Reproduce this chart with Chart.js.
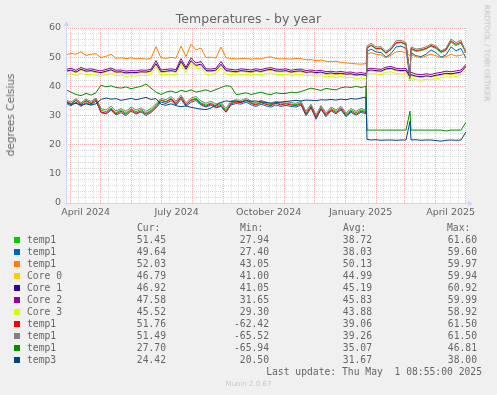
<!DOCTYPE html>
<html>
<head>
<meta charset="utf-8">
<title>Temperatures - by year</title>
<script src="https://cdn.jsdelivr.net/npm/chart.js@4.4.1/dist/chart.umd.min.js"></script>
<style>
  html, body { margin: 0; padding: 0; }
  body { width: 497px; height: 395px; background: #f0f0f0; position: relative; overflow: hidden;
         font-family: "DejaVu Sans", sans-serif; color: #666; }
  #chart { position: absolute; left: 0; top: 0; }
  .abs { position: absolute; white-space: pre; }
  #title { left: 0; width: 497px; top: 12px; text-align: center; font-size: 12.5px; line-height: 14px; }
  #ylabel { left: 10px; top: 115px; font-size: 10.5px; line-height: 12px; transform: translate(-50%, -50%) rotate(-90deg); }
  #rrd { left: 487px; top: 53px; font-size: 7.5px; line-height: 9px; color: #c0c0c0; transform: translate(-50%, -50%) rotate(90deg); }
  .mono { font-family: "DejaVu Sans Mono", monospace; font-size: 9.7px; line-height: 12px; }
  .sq { position: absolute; width: 6px; height: 6px; }
  #munin { left: 0; width: 497px; top: 378px; text-align: center; font-size: 7px; line-height: 12px; color: #c8c8c8; }
</style>
</head>
<body>
<canvas id="chart" width="497" height="225"></canvas>
<div id="title" class="abs">Temperatures - by year</div>
<div id="ylabel" class="abs">degrees Celsius</div>
<div id="rrd" class="abs">RRDTOOL / TOBI OETIKER</div>
<div id="legend"></div>
<div id="munin" class="abs">Munin 2.0.67</div>
<script>
// jours depuis le 27/03/2024 08:55 (debut du graphe annuel)
const days = [0, 5, 10, 15, 20, 25, 30, 35, 40, 45,
  50, 55, 60, 65, 70, 75, 80, 85, 90, 95,
  100, 105, 110, 115, 120, 125, 130, 135, 140, 145,
  150, 155, 160, 165, 170, 175, 180, 185, 190, 195,
  200, 205, 210, 215, 220, 225, 230, 235, 240, 245,
  250, 255, 260, 265, 270, 275, 280, 285, 290, 295,
  300, 301, 305, 310, 315, 320, 325, 330, 335, 340,
  344, 345, 350, 355, 360, 365, 370, 375, 380, 385,
  390, 395, 400];

const temp1Green = [35.0, 34.1, 35.4, 34.0, 35.2, 34.4, 35.7, 31.8, 31.3, 32.6,
  31.0, 31.9, 30.8, 32.3, 31.3, 32.1, 30.8, 31.8, 33.4, 35.4,
  34.8, 35.9, 34.4, 36.4, 33.8, 35.4, 35.9, 34.4, 33.6, 34.3,
  33.3, 33.9, 31.8, 34.3, 34.9, 34.7, 35.4, 34.5, 33.9, 34.7,
  34.1, 33.7, 34.4, 33.9, 34.3, 33.9, 33.7, 34.4, 30.8, 33.4,
  29.6, 32.9, 30.4, 32.4, 31.4, 32.7, 30.4, 31.9, 30.9, 31.9,
  31.4, 53.0, 54.0, 52.8, 52.9, 51.3, 52.6, 54.8, 55.0, 54.2,
  44.0, 52.8, 52.0, 52.3, 52.8, 53.7, 53.0, 51.6, 52.3, 55.2,
  54.0, 54.8, 51.45];

const temp1Blue = [34.2, 33.3, 34.6, 33.1, 34.4, 33.6, 34.9, 31.0, 30.5, 31.8,
  30.2, 31.0, 30.0, 31.5, 30.5, 31.2, 30.0, 31.0, 32.6, 34.6,
  34.1, 35.1, 33.6, 35.6, 33.1, 34.6, 35.1, 33.6, 32.9, 33.6,
  32.6, 33.1, 31.1, 33.6, 34.1, 33.9, 34.6, 33.7, 33.1, 33.9,
  33.3, 32.9, 33.6, 33.1, 33.5, 33.1, 32.9, 33.6, 29.9, 32.6,
  28.7, 32.1, 29.6, 31.6, 30.6, 31.9, 29.6, 31.1, 30.1, 31.1,
  30.6, 52.0, 52.8, 51.8, 51.6, 50.0, 51.2, 53.5, 53.8, 53.0,
  42.0, 51.5, 50.5, 50.2, 51.0, 52.5, 51.5, 50.0, 50.8, 53.5,
  52.2, 53.0, 49.64];

const temp1Orange = [50.8, 51.3, 51.0, 51.8, 50.6, 51.0, 51.2, 49.8, 50.3, 51.0,
  49.6, 49.8, 49.5, 49.8, 49.4, 49.6, 49.3, 49.6, 53.6, 49.8,
  49.6, 49.9, 49.7, 53.8, 50.2, 54.4, 52.5, 53.1, 49.8, 50.0,
  49.7, 53.5, 49.8, 49.6, 49.4, 49.5, 49.6, 49.3, 49.5, 49.4,
  49.9, 50.1, 49.6, 49.4, 49.5, 49.3, 49.6, 49.5, 49.1, 49.2,
  48.8, 49.0, 48.6, 48.4, 48.6, 48.2, 48.0, 47.9, 47.7, 47.6,
  47.8, 51.0, 51.5, 51.0, 50.8, 49.8, 50.6, 51.8, 52.0, 51.4,
  50.5, 50.8, 50.2, 49.8, 50.4, 51.0, 50.5, 49.8, 50.2, 51.0,
  50.4, 50.6, 52.03];

const core0 = [44.9, 45.3, 44.6, 45.6, 44.9, 45.1, 44.7, 44.4, 44.9, 45.4,
  44.6, 44.7, 44.3, 44.5, 44.4, 44.7, 44.6, 45.0, 47.6, 44.7,
  44.9, 45.1, 44.8, 48.2, 45.6, 48.4, 46.8, 47.2, 45.1, 45.0,
  45.3, 47.2, 45.1, 44.9, 44.7, 45.1, 44.9, 44.7, 45.1, 44.8,
  45.3, 45.5, 45.0, 44.9, 45.1, 44.6, 44.9, 45.0, 44.5, 44.7,
  44.4, 44.6, 44.1, 44.3, 44.0, 44.2, 43.9, 44.0, 43.6, 43.8,
  43.5, 45.1, 45.3, 45.1, 44.9, 45.7, 45.9, 45.3, 45.1, 45.2,
  42.9, 43.7, 43.2, 43.0, 43.3, 43.1, 43.5, 43.8, 44.2, 44.0,
  44.3, 44.6, 46.79];

const core1 = [45.2, 45.6, 44.9, 45.9, 45.2, 45.4, 45.0, 44.7, 45.2, 45.7,
  44.9, 45.0, 44.6, 44.8, 44.7, 45.0, 44.9, 45.3, 47.8, 45.0,
  45.2, 45.4, 45.1, 48.6, 45.9, 48.8, 47.2, 47.6, 45.4, 45.3,
  45.6, 47.6, 45.4, 45.2, 45.0, 45.4, 45.2, 45.0, 45.4, 45.1,
  45.6, 45.8, 45.3, 45.2, 45.4, 44.9, 45.2, 45.3, 44.8, 45.0,
  44.7, 44.9, 44.4, 44.6, 44.3, 44.5, 44.2, 44.3, 43.9, 44.1,
  43.8, 45.4, 45.6, 45.4, 45.2, 46.0, 46.2, 45.6, 45.4, 45.5,
  43.2, 44.0, 43.5, 43.3, 43.6, 43.4, 43.8, 44.1, 44.5, 44.3,
  44.6, 44.9, 46.92];

const core2 = [45.8, 46.2, 45.5, 46.5, 45.8, 46.0, 45.6, 45.3, 45.8, 46.3,
  45.5, 45.6, 45.2, 45.4, 45.3, 45.6, 45.5, 45.9, 48.8, 45.6,
  45.8, 46.0, 45.7, 49.5, 46.5, 49.8, 48.0, 48.5, 46.0, 45.9,
  46.2, 48.5, 46.0, 45.8, 45.6, 46.0, 45.8, 45.6, 46.0, 45.7,
  46.2, 46.4, 45.9, 45.8, 46.0, 45.5, 45.8, 45.9, 45.4, 45.6,
  45.3, 45.5, 45.0, 45.2, 44.9, 45.1, 44.8, 44.9, 44.5, 44.7,
  44.4, 46.0, 46.2, 46.0, 45.8, 46.6, 46.8, 46.2, 46.0, 46.1,
  44.0, 44.8, 44.2, 44.0, 44.3, 44.1, 44.5, 44.8, 45.2, 45.0,
  45.3, 45.6, 47.58];

const core3 = [44.0, 44.4, 43.7, 44.6, 44.0, 44.2, 43.8, 43.5, 44.0, 44.4,
  43.7, 43.8, 43.4, 43.6, 43.5, 43.8, 43.7, 44.1, 46.8, 43.8,
  44.0, 44.2, 43.9, 47.6, 44.7, 47.8, 46.0, 46.4, 44.2, 44.1,
  44.4, 46.4, 44.2, 44.0, 43.8, 44.2, 44.0, 43.8, 44.2, 43.9,
  44.4, 44.6, 44.1, 44.0, 44.2, 43.7, 44.0, 44.1, 43.6, 43.8,
  43.5, 43.7, 43.2, 43.4, 43.1, 43.3, 43.0, 43.1, 42.7, 42.9,
  42.6, 44.2, 44.4, 44.2, 44.0, 44.8, 45.0, 44.4, 44.2, 44.3,
  42.0, 42.8, 42.3, 42.1, 42.4, 42.2, 42.6, 42.9, 43.3, 43.1,
  43.4, 43.7, 45.52];

const temp1Red = [34.8, 33.8, 35.2, 33.6, 35.0, 34.0, 35.4, 31.2, 30.8, 32.2,
  30.6, 31.5, 30.4, 32.0, 30.8, 31.6, 30.5, 31.4, 33.0, 35.2,
  34.6, 35.6, 34.0, 36.2, 33.5, 35.2, 35.6, 34.0, 33.2, 34.0,
  32.8, 33.5, 31.2, 34.0, 34.6, 34.4, 35.2, 34.2, 33.6, 34.4,
  33.8, 33.4, 34.2, 33.6, 34.0, 33.6, 33.4, 34.0, 30.4, 33.0,
  29.2, 32.4, 30.0, 32.0, 31.0, 32.3, 30.0, 31.5, 30.4, 31.5,
  31.0, 53.2, 54.2, 53.0, 53.1, 51.5, 52.7, 55.0, 55.2, 54.5,
  44.0, 53.0, 52.3, 52.5, 53.0, 54.0, 53.3, 51.8, 52.6, 55.6,
  54.4, 55.2, 51.76];

const temp1Grey = [35.3, 34.6, 35.8, 34.4, 35.6, 34.9, 36.0, 32.4, 31.9, 33.2,
  31.6, 32.4, 31.4, 32.9, 31.9, 32.6, 31.4, 32.4, 34.0, 35.9,
  35.4, 36.5, 34.9, 37.0, 34.4, 36.0, 36.5, 35.0, 34.2, 34.9,
  33.9, 34.5, 32.4, 34.9, 35.4, 35.2, 35.9, 35.0, 34.4, 35.2,
  34.6, 34.2, 34.9, 34.4, 34.8, 34.4, 34.2, 34.9, 31.4, 33.9,
  30.2, 33.4, 30.9, 32.9, 31.9, 33.2, 30.9, 32.4, 31.4, 32.4,
  31.9, 53.8, 54.8, 53.5, 53.6, 52.0, 53.2, 55.6, 55.8, 55.0,
  43.0, 53.5, 52.8, 53.0, 53.5, 54.5, 53.8, 52.2, 53.0, 56.2,
  55.0, 55.8, 51.49];

const temp1DarkGreen = [38.8, 38.0, 37.2, 36.8, 37.6, 37.0, 37.8, 40.4, 39.8, 40.2,
  39.6, 39.4, 39.8, 39.2, 39.6, 40.0, 40.8, 39.4, 38.0, 37.2,
  38.0, 38.4, 37.8, 38.6, 38.2, 38.8, 38.0, 38.4, 38.8, 38.2,
  38.9, 39.6, 40.2, 40.0, 37.2, 37.4, 37.8, 37.2, 37.6, 38.0,
  37.4, 37.2, 37.8, 37.5, 37.6, 38.0, 37.8, 38.2, 38.8, 39.4,
  39.0, 38.6, 39.3, 39.0, 38.8, 39.5, 39.8, 39.6, 40.0, 39.6,
  40.0, 25.0, 25.0, 25.0, 25.0, 25.0, 25.0, 25.0, 25.0, 25.0,
  31.5, 25.0, 25.0, 25.0, 25.0, 25.0, 25.0, 25.0, 24.7, 25.0,
  25.0, 25.0, 27.7];

const temp3 = [34.5, 33.8, 34.2, 33.5, 34.0, 33.6, 34.0, 35.5, 36.0, 35.6,
  35.8, 35.2, 35.5, 35.9, 35.4, 35.8, 36.2, 35.5, 35.8, 33.8,
  33.5, 34.0, 33.4, 33.0, 33.3, 32.8, 32.5, 32.2, 32.0, 32.6,
  33.5, 34.5, 35.0, 34.8, 35.0, 34.6, 35.1, 34.9, 35.0, 34.7,
  34.5, 34.2, 34.4, 34.6, 34.8, 35.0, 35.2, 35.0, 35.3, 35.2,
  35.1, 35.4, 35.3, 35.5, 35.3, 35.6, 35.4, 35.8, 35.6, 36.0,
  36.3, 21.8, 21.6, 21.7, 21.5, 21.6, 21.6, 21.5, 21.6, 21.6,
  28.0, 21.6, 21.7, 21.5, 21.6, 21.6, 21.4, 21.2, 21.5, 21.6,
  21.5, 21.6, 24.4];

const seriesNames = ['temp1', 'temp1', 'temp1', 'Core 0', 'Core 1', 'Core 2', 'Core 3', 'temp1', 'temp1', 'temp1', 'temp3'];
const seriesColors = ['#00CC00', '#0066B3', '#FF8000', '#FFCC00', '#330099', '#990099', '#CCFF00', '#FF0000', '#808080', '#008F00', '#00487D'];
const seriesValues = [temp1Green, temp1Blue, temp1Orange, core0, core1, core2, core3, temp1Red, temp1Grey, temp1DarkGreen, temp3];

const curVals = ['51.45', '49.64', '52.03', '46.79', '46.92', '47.58', '45.52', '51.76', '51.49', '27.70', '24.42'];
const minVals = ['27.94', '27.40', '43.05', '41.00', '41.05', '31.65', '29.30', '-62.42', '-65.52', '-65.94', '20.50'];
const avgVals = ['38.72', '38.03', '50.13', '44.99', '45.19', '45.83', '43.88', '39.06', '39.26', '35.07', '31.67'];
const maxVals = ['61.60', '59.60', '59.97', '59.94', '60.92', '59.99', '58.92', '61.50', '61.50', '46.81', '38.00'];
const legendHeaders = ['Cur:', 'Min:', 'Avg:', 'Max:'];

const xTickLabels = ['April 2024', 'July 2024', 'October 2024', 'January 2025', 'April 2025'];
const xLabelMonths = [[2024, 3], [2024, 6], [2024, 9], [2025, 0], [2025, 3]];
const yTickLabels = ['0', '10', '20', '30', '40', '50', '60'];

// --- axe des x : grille mensuelle (rouge), quarts de mois (gris), etiquettes au milieu du mois
const t0 = Date.UTC(2024, 2, 27, 8, 55);
const toDay = ms => (ms - t0) / 86400000;
const xTicks = [];
for (let m = 2; m <= 15; m++) {
    const s = Date.UTC(2024, m, 1), e = Date.UTC(2024, m + 1, 1);
    for (let k = 1; k <= 3; k++) {
        const d = toDay(s + (e - s) * k / 4);
        if (d > 0 && d < 400) xTicks.push({ value: d, kind: 'minor', label: '' });
    }
}
for (let m = 3; m <= 16; m++) {
    const d = toDay(Date.UTC(2024, m, 1));
    if (d > 0 && d <= 400) xTicks.push({ value: d, kind: 'major', label: '' });
}
xLabelMonths.forEach((ym, i) => {
    xTicks.push({ value: toDay(Date.UTC(ym[0], ym[1], 1)) + 15, kind: 'label', label: xTickLabels[i] });
});

const MINOR = 'rgba(143,143,143,0.3)';
const MAJOR = 'rgba(222,79,79,0.42)';
const AXIS = '#CFD6F8';

const muninPlugin = {
    id: 'munin',
    beforeDraw(chart) {
        const { ctx, chartArea: a } = chart;
        ctx.save();
        ctx.fillStyle = '#ffffff';
        ctx.fillRect(a.left, a.top, a.right - a.left, a.bottom - a.top);
        ctx.restore();
    },
    afterDraw(chart) {
        const { ctx, chartArea: a } = chart;
        const x = Math.round(a.left) + 0.5, y = Math.round(a.bottom) + 0.5;
        ctx.save();
        ctx.strokeStyle = AXIS;
        ctx.fillStyle = AXIS;
        ctx.lineWidth = 1;
        ctx.beginPath();
        ctx.moveTo(x, y + 2); ctx.lineTo(x, a.top - 3);
        ctx.moveTo(x - 2, y); ctx.lineTo(a.right + 4, y);
        ctx.stroke();
        // fleches
        ctx.beginPath();
        ctx.moveTo(x, a.top - 7); ctx.lineTo(x - 3, a.top - 2); ctx.lineTo(x + 3, a.top - 2); ctx.closePath();
        ctx.fill();
        ctx.beginPath();
        ctx.moveTo(a.right + 7, y); ctx.lineTo(a.right + 2, y - 3); ctx.lineTo(a.right + 2, y + 3); ctx.closePath();
        ctx.fill();
        ctx.restore();
    }
};

const datasets = seriesValues.map((vals, i) => ({
    label: seriesNames[i],
    data: vals.map((v, j) => ({ x: days[j], y: v })),
    borderColor: seriesColors[i],
    backgroundColor: seriesColors[i],
    borderWidth: 1,
    pointRadius: 0,
    tension: 0,
    fill: false,
    order: -i
}));

const tickFont = { family: 'DejaVu Sans', size: 9.5 };

new Chart(document.getElementById('chart').getContext('2d'), {
    type: 'line',
    data: { datasets },
    options: {
        responsive: false,
        animation: false,
        devicePixelRatio: 1,
        layout: { padding: { top: 28, right: 31, bottom: 0, left: 0 } },
        plugins: { legend: { display: false }, tooltip: { enabled: false } },
        scales: {
            x: {
                type: 'linear',
                min: 0,
                max: 400,
                afterBuildTicks: s => { s.ticks = xTicks.map(t => ({ value: t.value })); },
                afterFit: s => { s.height = 22; },
                grid: {
                    drawTicks: false,
                    lineWidth: 1,
                    color: c => {
                        const t = xTicks[c.index];
                        if (!t || t.kind === 'label') return 'rgba(0,0,0,0)';
                        return t.kind === 'major' ? MAJOR : MINOR;
                    }
                },
                border: { display: false, dash: [1, 1] },
                ticks: {
                    autoSkip: false,
                    maxRotation: 0,
                    padding: 4,
                    color: '#666',
                    font: tickFont,
                    callback: (v, i) => (xTicks[i] ? xTicks[i].label : '')
                }
            },
            y: {
                min: 0,
                max: 60,
                afterFit: s => { s.width = 66; },
                grid: {
                    drawTicks: false,
                    lineWidth: 1,
                    color: c => {
                        const v = c.tick ? c.tick.value : 0;
                        if (v === 0) return 'rgba(0,0,0,0)';
                        return v % 10 === 0 ? MAJOR : MINOR;
                    }
                },
                border: { display: false, dash: [1, 1] },
                ticks: {
                    stepSize: 2,
                    autoSkip: false,
                    padding: 5,
                    color: '#666',
                    font: tickFont,
                    callback: v => (v % 10 === 0 ? yTickLabels[v / 10] : '')
                }
            }
        }
    },
    plugins: [muninPlugin]
});

// --- legende facon munin
const legend = document.getElementById('legend');
const colRight = [166, 269, 372, 477];
const colHeadLeft = [137, 240, 343, 447];
function cell(text, top, left, right) {
    const d = document.createElement('div');
    d.className = 'abs mono';
    d.textContent = text;
    d.style.top = top + 'px';
    if (left !== null) d.style.left = left + 'px';
    if (right !== null) d.style.right = (497 - right) + 'px';
    legend.appendChild(d);
}
legendHeaders.forEach((h, c) => cell(h, 222, colHeadLeft[c], null));
seriesNames.forEach((name, i) => {
    const top = 234 + 12 * i;
    const sq = document.createElement('div');
    sq.className = 'sq';
    sq.style.left = '14px';
    sq.style.top = (top + 3) + 'px';
    sq.style.background = seriesColors[i];
    legend.appendChild(sq);
    cell(name, top, 27, null);
    [curVals, minVals, avgVals, maxVals].forEach((arr, c) => cell(arr[i], top, null, colRight[c]));
});
cell('Last update: Thu May  1 08:55:00 2025', 366, null, 482);
</script>
</body>
</html>
